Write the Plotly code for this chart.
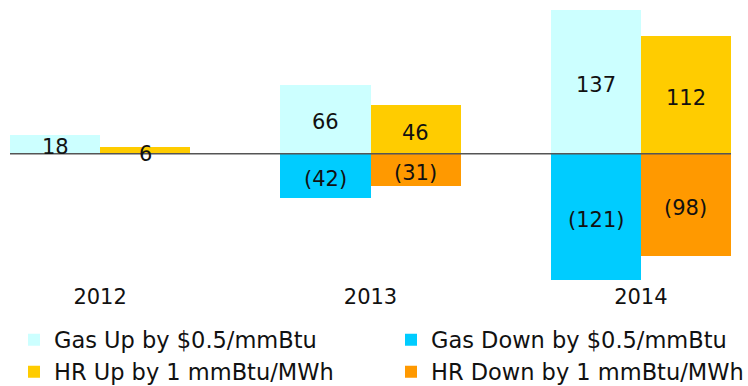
import plotly.graph_objects as go

years = ["2012", "2013", "2014"]
gas_up = [18, 66, 137]
gas_down = [None, -42, -121]
hr_up = [6, 46, 112]
hr_down = [None, -31, -98]

names = ["Gas Up by $0.5/mmBtu", "Gas Down by $0.5/mmBtu",
         "HR Up by 1 mmBtu/MWh", "HR Down by 1 mmBtu/MWh"]
colors = ["#CCFFFF", "#00CCFF", "#FFCC00", "#FF9900"]

FONT = "DejaVu Sans"
W, H = 748, 386
bw = 1 / 3.0
xc = list(range(len(years)))
x_gas = [x - bw / 2 for x in xc]
x_hr = [x + bw / 2 for x in xc]

def fmt(v):
    return f"({abs(v)})" if v < 0 else f"{v}"

# legend placement (container pixels): (left x, centre y)
leg_pos = [(14, 340), (391, 340), (14, 372), (391, 372)]
leg_ids = ["legend", "legend2", "legend3", "legend4"]

fig = go.Figure()
series = [(gas_up, x_gas, 0), (gas_down, x_gas, 1),
          (hr_up, x_hr, 2), (hr_down, x_hr, 3)]
for vals, xs, i in series:
    fig.add_trace(go.Bar(x=xs, y=vals, width=bw, name=names[i],
                         marker=dict(color=colors[i], line=dict(width=0)),
                         legend=leg_ids[i], showlegend=True, hoverinfo="skip"))

annotations = []
for vals, xs, i in series:
    for x, v in zip(xs, vals):
        if v is None:
            continue
        annotations.append(dict(x=x, y=v / 2, xref="x", yref="y", text=fmt(v),
                                showarrow=False, yshift=-3,
                                font=dict(family=FONT, size=21, color="#111111")))

fig.add_shape(type="line", xref="paper", x0=0, x1=1, yref="y", y0=0, y1=0,
              line=dict(color="#555555", width=1.5), layer="above")

layout_legends = {}
for lid, (px, py) in zip(leg_ids, leg_pos):
    layout_legends[lid] = dict(visible=True, orientation="h",
                               xref="container", yref="container",
                               x=px / W, y=1 - py / H, xanchor="left", yanchor="middle",
                               font=dict(family=FONT, size=22.5, color="#111111"),
                               bgcolor="rgba(0,0,0,0)")

fig.update_layout(
    width=W, height=H, showlegend=True,
    margin=dict(l=10, r=17, t=5, b=104, autoexpand=False),
    plot_bgcolor="white", paper_bgcolor="white",
    barmode="relative", bargap=0,
    font=dict(family=FONT, size=21, color="#111111"),
    xaxis=dict(range=[-bw, 2 + bw], tickvals=xc, ticktext=years,
               showgrid=False, zeroline=False, showline=False, ticks="",
               tickfont=dict(size=21), fixedrange=True),
    yaxis=dict(range=[-122.5, 141.9], visible=False, showgrid=False,
               zeroline=False, fixedrange=True),
    annotations=annotations,
    **layout_legends,
)

fig.write_html("out.html")
